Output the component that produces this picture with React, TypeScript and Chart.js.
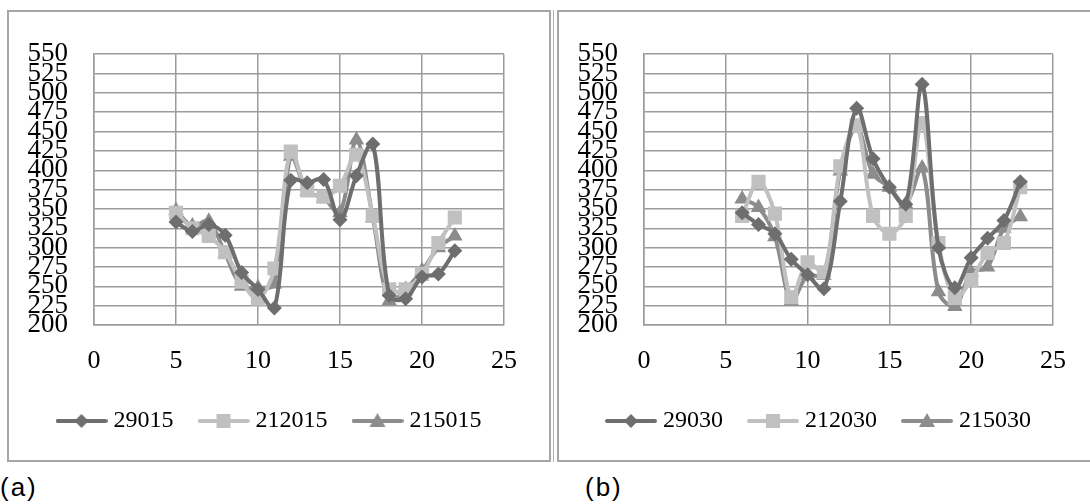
import React, { useEffect, useRef } from "react";
import { Chart, registerables } from "chart.js";
Chart.register(...registerables);

// ---- data (a) ----
const xA = [5, 6, 7, 8, 9, 10, 11, 12, 13, 14, 15, 16, 17, 18, 19, 20, 21, 22];
const s29015 = [333, 321, 330, 316, 268, 246, 222, 387, 384, 388, 336, 393, 434, 238, 234, 262, 266, 296];
const s212015 = [345, 325, 315, 294, 256, 234, 273, 424, 374, 366, 380, 420, 341, 246, 246, 266, 306, 339];
const s215015 = [348, 328, 334, 292, 250, 248, 253, 418, 373, 364, 345, 439, 339, 231, 246, 270, 300, 315];
const namesA = ["29015", "212015", "215015"];

// ---- data (b) ----
const xB = [6, 7, 8, 9, 10, 11, 12, 13, 14, 15, 16, 17, 18, 19, 20, 21, 22, 23];
const s29030 = [345, 330, 318, 285, 265, 247, 360, 480, 415, 378, 356, 511, 300, 248, 287, 312, 335, 385];
const s212030 = [341, 385, 344, 236, 281, 268, 405, 458, 341, 318, 341, 461, 306, 235, 258, 293, 306, 378];
const s215030 = [363, 352, 314, 231, 264, 264, 399, 455, 395, 378, 356, 403, 243, 224, 268, 275, 325, 340];
const namesB = ["29030", "212030", "215030"];

const yMin = 200;
const yMax = 550;
const yStep = 25;
const xMin = 0;
const xMax = 25;
const xStep = 5;

const colors = ["#6e6e6e", "#c0c0c0", "#8c8c8c"];
const styles = ["rectRot", "rect", "triangle"];
const radii = [7.5, 10, 9];

function legendImage(color: string, style: string): HTMLCanvasElement {
  const c = document.createElement("canvas");
  c.width = 52;
  c.height = 20;
  const ctx = c.getContext("2d")!;
  ctx.strokeStyle = color;
  ctx.fillStyle = color;
  ctx.lineWidth = 4;
  ctx.lineCap = "round";
  ctx.beginPath();
  ctx.moveTo(2, 10);
  ctx.lineTo(50, 10);
  ctx.stroke();
  ctx.beginPath();
  if (style === "rectRot") {
    ctx.moveTo(26, 3);
    ctx.lineTo(33, 10);
    ctx.lineTo(26, 17);
    ctx.lineTo(19, 10);
  } else if (style === "rect") {
    ctx.rect(19, 3, 14, 14);
  } else {
    ctx.moveTo(26, 2);
    ctx.lineTo(34, 16);
    ctx.lineTo(18, 16);
  }
  ctx.closePath();
  ctx.fill();
  return c;
}

const legendShift = {
  id: "legendShift",
  afterLayout(chart: any, _args: any, opts: any) {
    const lg = chart.legend;
    if (lg && opts && opts.dx) {
      lg.left += opts.dx;
      lg.right += opts.dx;
    }
  },
};

function ChartBox(props: {
  xs: number[];
  series: number[][];
  names: string[];
  width: number;
  height: number;
  padRight: number;
  dx: number;
}) {
  const ref = useRef<HTMLCanvasElement | null>(null);
  useEffect(() => {
    if (!ref.current) return;
    const datasets = props.series.map((vals, i) => ({
      label: props.names[i],
      data: vals.map((v, j) => ({ x: props.xs[j], y: v })),
      borderColor: colors[i],
      backgroundColor: colors[i],
      pointBackgroundColor: colors[i],
      pointBorderColor: colors[i],
      pointStyle: styles[i] as any,
      pointRadius: radii[i],
      pointBorderWidth: 0,
      borderWidth: 4,
      tension: 0.35,
    }));
    const imgs = colors.map((c, i) => legendImage(c, styles[i]));
    const gridColor = "#9c9c9c";
    const chart = new Chart(ref.current, {
      type: "line",
      data: { datasets },
      plugins: [legendShift],
      options: {
        animation: false,
        responsive: false,
        layout: { padding: { left: 0, right: props.padRight, top: 32, bottom: 17 } },
        scales: {
          x: {
            type: "linear",
            min: xMin,
            max: xMax,
            ticks: {
              stepSize: xStep,
              color: "#000",
              padding: 21,
              font: { family: "Liberation Serif", size: 26 },
            },
            grid: { color: gridColor, lineWidth: 1.5, drawTicks: false },
            border: { color: gridColor, width: 1.5 },
            afterFit: (s: any) => {
              s.height = 54;
            },
          },
          y: {
            min: yMin,
            max: yMax,
            ticks: {
              stepSize: yStep,
              autoSkip: false,
              color: "#000",
              padding: 26,
              font: { family: "Liberation Serif", size: 27 },
            },
            grid: { color: gridColor, lineWidth: 1.5, drawTicks: false },
            border: { color: gridColor, width: 1.5 },
            afterFit: (s: any) => {
              s.width = 85;
            },
          },
        },
        plugins: {
          legend: {
            position: "bottom",
            labels: {
              usePointStyle: true,
              pointStyleWidth: 40,
              padding: 30,
              color: "#000",
              font: { family: "Liberation Serif", size: 24 },
              generateLabels: (ch: any) =>
                ch.data.datasets.map((d: any, i: number) => ({
                  text: d.label,
                  pointStyle: imgs[i],
                  fillStyle: colors[i],
                  strokeStyle: colors[i],
                  lineWidth: 0,
                  hidden: false,
                  datasetIndex: i,
                })),
            },
          },
          tooltip: { enabled: false },
          legendShift: { dx: props.dx },
        } as any,
      },
    });
    return () => chart.destroy();
  }, []);
  return (
    <canvas
      ref={ref}
      width={props.width}
      height={props.height}
      style={{ display: "block", width: props.width, height: props.height }}
    />
  );
}

export default function App() {
  const boxBorder = "2px solid #a6a6a6";
  const capStyle = {
    position: "absolute" as const,
    top: 472,
    fontFamily: "Liberation Sans",
    fontSize: 26,
    letterSpacing: 2,
    color: "#000",
  };
  return (
    <div style={{ position: "absolute", left: 0, top: 0, width: 1090, height: 504, overflow: "hidden", background: "#fff" }}>
      <div
        style={{
          position: "absolute",
          left: 7,
          top: 10,
          width: 544,
          height: 452,
          border: boxBorder,
          boxSizing: "border-box",
        }}
      >
        <ChartBox xs={xA} series={[s29015, s212015, s215015]} names={namesA} width={540} height={448} padRight={45} dx={15} />
      </div>
      <div style={{ position: "absolute", left: 553, top: 10, width: 1, height: 452, background: "#b0b0b0" }} />
      <div
        style={{
          position: "absolute",
          left: 557,
          top: 10,
          width: 540,
          height: 452,
          border: boxBorder,
          boxSizing: "border-box",
        }}
      >
        <ChartBox xs={xB} series={[s29030, s212030, s215030]} names={namesB} width={531} height={448} padRight={37} dx={15} />
      </div>
      <div style={{ ...capStyle, left: 0 }}>(a)</div>
      <div style={{ ...capStyle, left: 585 }}>(b)</div>
    </div>
  );
}
